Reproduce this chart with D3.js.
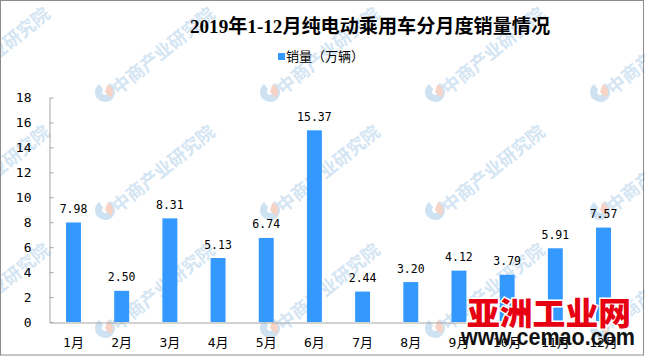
<!DOCTYPE html>
<html><head><meta charset="utf-8">
<script src="https://cdn.jsdelivr.net/npm/d3@7"></script>
<style>
html,body{margin:0;padding:0;background:#fff;}
svg{display:block;}
</style></head>
<body>
<svg id="c" width="645" height="356"></svg>
<script>
const months = ["1月","2月","3月","4月","5月","6月","7月","8月","9月","10月","11月","12月"];
const sales = [7.98,2.50,8.31,5.13,6.74,15.37,2.44,3.20,4.12,3.79,5.91,7.57];
const yTicks = [0,2,4,6,8,10,12,14,16,18];
const title = "2019年1-12月纯电动乘用车分月度销量情况";
const seriesName = "销量（万辆）";
const watermark = "中商产业研究院";
const wmCols = [-60,105,270,435,600];
const wmRows = [92,210,328];

const svg = d3.select("#c");
const barColor = "#3399ff";
const axisColor = "#a6a6a6";
const cjk = "'Noto Sans CJK SC','Noto Sans',sans-serif";
const mono = "'DejaVu Sans Mono','Noto Sans CJK SC',monospace";

// watermarks
const wm = svg.append("g").attr("class","watermarks");
wmCols.forEach(cx => wmRows.forEach(cy => {
  const g = wm.append("g").attr("transform",`translate(${cx},${cy})`);
  const r = 8;
  const arc = d3.arc().innerRadius(r-5).outerRadius(r+2);
  g.append("path").attr("d", arc({startAngle: -0.2*Math.PI, endAngle: -1.85*Math.PI}))
    .attr("fill","#cfe2f1");
  g.append("path").attr("d", d3.arc().innerRadius(0).outerRadius(r)({startAngle:0.1*Math.PI,endAngle:0.75*Math.PI}))
    .attr("fill","#f7d3c6");
  g.append("text").attr("transform","translate(9,-2) rotate(-39)")
    .attr("y",7).attr("font-family",cjk).attr("font-weight","bold")
    .attr("font-size",18).attr("fill","#d4e5f3").text(watermark);
}));

// border
svg.append("rect").attr("x",0.5).attr("y",0.5).attr("width",643).attr("height",354.5)
  .attr("fill","none").attr("stroke","#8c8c8c");

const x = d3.scaleBand().domain(months).range([49.4,627.6]).paddingInner(0.69).paddingOuter(0.345);
const y = d3.scaleLinear().domain([0,18]).range([322,97.5]);

// title
svg.append("text").attr("x",370).attr("y",33).attr("text-anchor","middle")
  .attr("font-family","'Liberation Serif','Noto Sans CJK SC',serif").attr("font-weight","bold")
  .attr("font-size",19).attr("fill","#000")
  .attr("textLength",360).attr("lengthAdjust","spacingAndGlyphs").text(title);

// legend
svg.append("rect").attr("x",278).attr("y",53).attr("width",7).attr("height",7).attr("fill",barColor);
svg.append("text").attr("x",286).attr("y",61).attr("font-family",cjk).attr("font-size",13)
  .attr("fill","#000").text(seriesName);

// y axis
const yAxis = svg.append("g").attr("transform","translate(49.5,0)")
  .call(d3.axisLeft(y).tickValues(yTicks).tickSizeInner(-4).tickSizeOuter(0).tickPadding(18));
yAxis.select(".domain").attr("stroke",axisColor);
yAxis.selectAll(".tick line").attr("stroke",axisColor);
yAxis.selectAll(".tick text").attr("font-family",mono).attr("font-size",13).attr("fill","#000");

// bars
svg.append("g").selectAll("rect").data(sales).join("rect")
  .attr("x",(d,i)=>x(months[i])).attr("width",x.bandwidth())
  .attr("y",d=>y(d)).attr("height",d=>y(0)-y(d)).attr("fill",barColor);

// x axis
const xAxis = svg.append("g").attr("transform","translate(0,322.5)")
  .call(d3.axisBottom(x).tickSize(0).tickPadding(15));
xAxis.select(".domain").attr("stroke",axisColor);
xAxis.selectAll(".tick text").attr("font-family",mono).attr("font-size",13).attr("fill","#000");

// value labels
svg.append("g").selectAll("text").data(sales).join("text")
  .attr("x",(d,i)=>x(months[i])+x.bandwidth()/2).attr("y",d=>y(d)-9.5)
  .attr("text-anchor","middle").attr("font-family",mono).attr("font-size",11.5)
  .attr("fill","#000").text(d=>d.toFixed(2));

// site logo overlay
svg.append("text").attr("x",467).attr("y",325).attr("font-family",cjk).attr("font-weight",900)
  .attr("font-size",32).attr("fill","#e60012").attr("stroke","#fff").attr("stroke-width",3)
  .attr("paint-order","stroke").attr("textLength",164).attr("lengthAdjust","spacingAndGlyphs")
  .text("亚洲工业网");
svg.append("text").attr("x",461).attr("y",345).attr("font-family","'Liberation Sans',Arial,sans-serif")
  .attr("font-weight","bold").attr("font-size",24).attr("fill","#111")
  .attr("textLength",174).attr("lengthAdjust","spacingAndGlyphs").text("www.cemao.com");
</script>
</body></html>
